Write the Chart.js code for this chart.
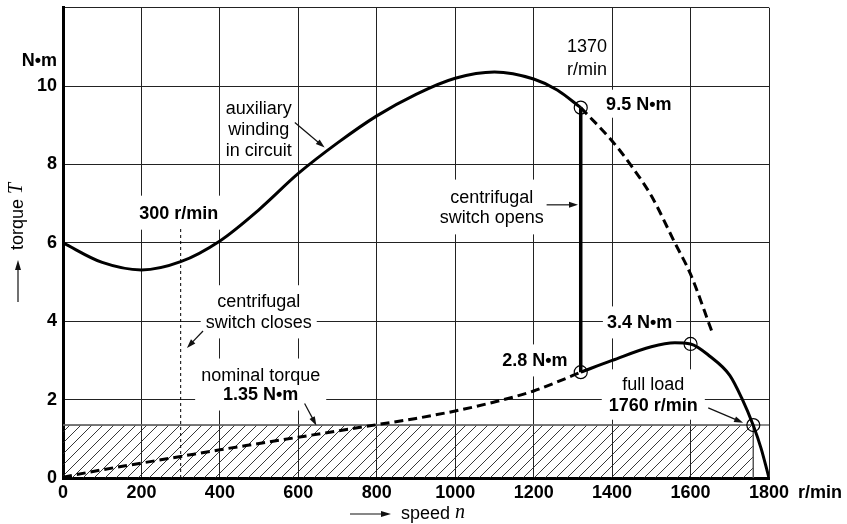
<!DOCTYPE html>
<html>
<head>
<meta charset="utf-8">
<script src="https://cdn.jsdelivr.net/npm/chart.js@4.4.1/dist/chart.umd.min.js"></script>
<style>
    html, body { margin: 0; padding: 0; background: #fff; }
    #wrap { width: 847px; height: 524px; }
</style>
</head>
<body>
<div id="wrap"><canvas id="torqueChart" width="847" height="524"></canvas></div>
<script>
/* ================= DATA ================= */
const speedTicks = [0, 200, 400, 600, 800, 1000, 1200, 1400, 1600, 1800];
const torqueTicks = [0, 2, 4, 6, 8, 10, 12];
const torqueLabelled = [0, 2, 4, 6, 8, 10];

// auxiliary winding in circuit (solid, then dashed once the switch has opened)
const auxSpeed = [0, 100, 200, 300, 400, 500, 600, 700, 800, 900, 1000, 1100, 1200, 1260, 1320];
const auxTorque = [6.0, 5.5, 5.31, 5.52, 6.05, 6.85, 7.77, 8.55, 9.24, 9.79, 10.2, 10.36, 10.18, 9.9, 9.45];
const auxExtSpeed = [1320, 1400, 1450, 1500, 1560, 1600, 1654];
const auxExtTorque = [9.45, 8.6, 7.95, 7.2, 6.0, 5.2, 3.75];

// main winding only (dashed below the switch, solid above it)
const mainLowSpeed = [0, 100, 200, 300, 400, 500, 600, 700, 800, 900, 1000, 1100, 1200, 1260, 1320];
const mainLowTorque = [0.02, 0.21, 0.38, 0.55, 0.72, 0.88, 1.04, 1.2, 1.36, 1.52, 1.71, 1.94, 2.22, 2.45, 2.7];
const mainRunSpeed = [1320, 1400, 1500, 1560, 1600, 1650, 1700, 1730, 1760, 1780, 1800];
const mainRunTorque = [2.7, 3.0, 3.35, 3.45, 3.42, 3.1, 2.62, 2.05, 1.34, 0.75, 0];

const switchSpeed = 1320;
const switchTorque = [2.7, 9.45];
const closeSpeed = 300;
const closeTorque = [0, 6.4];
const nominalTorque = 1.35;
const fullLoadSpeed = 1760;

const markSpeed = [1320, 1320, 1600, 1760];
const markTorque = [9.45, 2.7, 3.42, 1.35];

const FONT = "'Liberation Sans', Arial, Helvetica, sans-serif";
const SERIF = "'Liberation Serif', 'Times New Roman', serif";

const pts = (xs, ys) => xs.map((x, i) => ({ x: x, y: ys[i] }));

/* ================= HATCH PATTERN ================= */
const canvas = document.getElementById('torqueChart');
const ctx = canvas.getContext('2d');

function hatchPattern() {
    const tile = document.createElement('canvas');
    tile.width = 11;
    tile.height = 11;
    const g = tile.getContext('2d');
    g.strokeStyle = '#222';
    g.lineWidth = 0.9;
    g.beginPath();
    g.moveTo(0, 11); g.lineTo(11, 0);
    g.moveTo(-2, 2); g.lineTo(2, -2);
    g.moveTo(9, 13); g.lineTo(13, 9);
    g.stroke();
    return ctx.createPattern(tile, 'repeat');
}

/* ================= ANNOTATIONS ================= */
// text notes placed in data units (speed, torque); each line: [text, bold, torque]
const notes = [
    { x: 499, lines: [['auxiliary', false, 9.44], ['winding', false, 8.91], ['in circuit', false, 8.37]], padX: 2, padY: 3 },
    { x: 1093, lines: [['centrifugal', false, 7.18], ['switch opens', false, 6.65]], padX: 6, padY: 8 },
    { x: 295, lines: [['300 r/min', true, 6.77]], padX: 5, padY: 8 },
    { x: 499, lines: [['centrifugal', false, 4.51], ['switch closes', false, 3.97]], padX: 5, padY: 7 },
    { x: 504, lines: [['nominal torque', false, 2.64], ['1.35 N•m', true, 2.13]], padX: 6, padY: 7 },
    { x: 1336, lines: [['1370', false, 11.02], ['r/min', false, 10.44]], padX: 2, padY: 3 },
    { x: 1468, lines: [['9.5 N•m', true, 9.55]], padX: 4, padY: 5 },
    { x: 1470, lines: [['3.4 N•m', true, 3.97]], padX: 4, padY: 7 },
    { x: 1203, lines: [['2.8 N•m', true, 3.0]], padX: 4, padY: 7 },
    { x: 1505, lines: [['full load', false, 2.39], ['1760 r/min', true, 1.87]], padX: 7, padY: 6 }
];

// arrows in data units: [fromSpeed, fromTorque, toSpeed, toTorque]
const arrows = [
    [591, 9.07, 667, 8.43],
    [1233, 6.97, 1313, 6.97],
    [357, 3.75, 316, 3.32],
    [616, 1.9, 646, 1.34],
    [1645, 1.79, 1734, 1.41]
];

function drawArrow(c, x1, y1, x2, y2, head, width) {
    const a = Math.atan2(y2 - y1, x2 - x1);
    c.save();
    c.strokeStyle = '#111';
    c.fillStyle = '#111';
    c.lineWidth = width;
    c.beginPath();
    c.moveTo(x1, y1);
    c.lineTo(x2 - Math.cos(a) * head * 0.8, y2 - Math.sin(a) * head * 0.8);
    c.stroke();
    c.beginPath();
    c.moveTo(x2, y2);
    c.lineTo(x2 - head * Math.cos(a) + 3 * Math.sin(a), y2 - head * Math.sin(a) - 3 * Math.cos(a));
    c.lineTo(x2 - head * Math.cos(a) - 3 * Math.sin(a), y2 - head * Math.sin(a) + 3 * Math.cos(a));
    c.closePath();
    c.fill();
    c.restore();
}

const notesPlugin = {
    id: 'notes',
    beforeDatasetsDraw(chart) {
        const c = chart.ctx;
        const xs = chart.scales.x, ys = chart.scales.y;
        c.save();
        notes.forEach(n => {
            const cx = xs.getPixelForValue(n.x);
            let w = 0;
            n.lines.forEach(l => {
                c.font = (l[1] ? 'bold ' : '') + '18px ' + FONT;
                w = Math.max(w, c.measureText(l[0]).width);
            });
            const top = ys.getPixelForValue(n.lines[0][2]) - 9 - n.padY;
            const bottom = ys.getPixelForValue(n.lines[n.lines.length - 1][2]) + 9 + n.padY;
            c.fillStyle = '#fff';
            c.fillRect(cx - w / 2 - n.padX, top, w + 2 * n.padX, bottom - top);
            c.fillStyle = '#000';
            c.textAlign = 'center';
            c.textBaseline = 'middle';
            n.lines.forEach(l => {
                c.font = (l[1] ? 'bold ' : '') + '18px ' + FONT;
                c.fillText(l[0], cx, ys.getPixelForValue(l[2]) + 1);
            });
        });
        c.restore();
    },
    afterDatasetsDraw(chart) {
        const c = chart.ctx;
        const xs = chart.scales.x, ys = chart.scales.y;
        arrows.forEach(a => {
            drawArrow(c, xs.getPixelForValue(a[0]), ys.getPixelForValue(a[1]),
                xs.getPixelForValue(a[2]), ys.getPixelForValue(a[3]), 9, 1.2);
        });
    },
    afterDraw(chart) {
        const c = chart.ctx;
        const area = chart.chartArea;
        c.save();
        c.fillStyle = '#000';
        c.textBaseline = 'middle';

        // axis units
        c.font = 'bold 18px ' + FONT;
        c.textAlign = 'right';
        c.fillText('N•m', area.left - 6, 61);
        c.textAlign = 'left';
        c.fillText('r/min', area.right + 29, area.bottom + 15);

        // x title: arrow + "speed n"
        const ty = area.bottom + 36;
        drawArrow(c, 350, ty, 391, ty, 10, 1.2);
        c.font = '18px ' + FONT;
        c.fillText('speed ', 401, ty);
        const sw = c.measureText('speed ').width;
        c.font = 'italic 20px ' + SERIF;
        c.fillText('n', 401 + sw, ty - 1);

        // y title: arrow + "torque T", rotated
        c.translate(18, 302);
        c.rotate(-Math.PI / 2);
        drawArrow(c, 0, 0, 42, 0, 10, 1.2);
        c.font = '18px ' + FONT;
        c.fillText('torque ', 52, 0);
        const tw = c.measureText('torque ').width;
        c.font = 'italic 20px ' + SERIF;
        c.fillText('T', 52 + tw, -1);
        c.restore();
    }
};

/* ================= CHART ================= */
const tickFont = { family: FONT, size: 18, weight: 'bold' };

const torqueChart = new Chart(ctx, {
    type: 'scatter',
    data: {
        datasets: [
            {
                label: 'aux winding',
                data: pts(auxSpeed, auxTorque),
                showLine: true,
                borderColor: '#000',
                borderWidth: 3,
                cubicInterpolationMode: 'monotone',
                pointRadius: 0,
                order: 2
            },
            {
                label: 'aux winding (switch open)',
                data: pts(auxExtSpeed, auxExtTorque),
                showLine: true,
                borderColor: '#000',
                borderWidth: 3,
                borderDash: [9, 5],
                cubicInterpolationMode: 'monotone',
                pointRadius: 0,
                order: 2
            },
            {
                label: 'main winding (switch closed)',
                data: pts(mainLowSpeed, mainLowTorque),
                showLine: true,
                borderColor: '#000',
                borderWidth: 3,
                borderDash: [9, 5],
                cubicInterpolationMode: 'monotone',
                pointRadius: 0,
                order: 2
            },
            {
                label: 'main winding',
                data: pts(mainRunSpeed, mainRunTorque),
                showLine: true,
                borderColor: '#000',
                borderWidth: 3,
                cubicInterpolationMode: 'monotone',
                pointRadius: 0,
                order: 2
            },
            {
                label: 'switch opens',
                data: pts([switchSpeed, switchSpeed], switchTorque),
                showLine: true,
                borderColor: '#000',
                borderWidth: 3.5,
                pointRadius: 0,
                order: 2
            },
            {
                label: 'switch closes',
                data: pts([closeSpeed, closeSpeed], closeTorque),
                showLine: true,
                borderColor: '#000',
                borderWidth: 1,
                borderDash: [3, 3],
                pointRadius: 0,
                order: 3
            },
            {
                label: 'nominal torque line',
                data: pts([0, 1800], [nominalTorque, nominalTorque]),
                showLine: true,
                borderColor: '#666',
                borderWidth: 1.5,
                pointRadius: 0,
                order: 4
            },
            {
                label: 'nominal area',
                data: pts([0, fullLoadSpeed, fullLoadSpeed], [nominalTorque, nominalTorque, 0]),
                showLine: true,
                fill: 'origin',
                backgroundColor: hatchPattern(),
                borderColor: '#555',
                borderWidth: 1,
                pointRadius: 0,
                order: 5
            },
            {
                label: 'marks',
                data: pts(markSpeed, markTorque),
                showLine: false,
                pointStyle: 'circle',
                pointRadius: 6.5,
                pointBackgroundColor: 'rgba(0,0,0,0)',
                pointBorderColor: '#000',
                pointBorderWidth: 1.2,
                order: 1
            }
        ]
    },
    options: {
        responsive: false,
        animation: false,
        layout: { padding: { top: 7, right: 78, left: 0, bottom: 0 } },
        plugins: {
            legend: { display: false },
            tooltip: { enabled: false }
        },
        scales: {
            x: {
                type: 'linear',
                min: 0,
                max: 1800,
                afterBuildTicks: axis => { axis.ticks = speedTicks.map(v => ({ value: v })); },
                afterFit: axis => { axis.height = 46; axis.paddingLeft = 0; axis.paddingRight = 0; },
                ticks: {
                    font: tickFont,
                    color: '#000',
                    padding: 4,
                    maxRotation: 0,
                    autoSkip: false,
                    callback: v => String(v)
                },
                grid: { color: '#222', lineWidth: 1, drawTicks: false },
                border: { color: '#000', width: 3 }
            },
            y: {
                min: 0,
                max: 12,
                afterBuildTicks: axis => { axis.ticks = torqueTicks.map(v => ({ value: v })); },
                afterFit: axis => { axis.width = 63; axis.paddingTop = 0; axis.paddingBottom = 0; },
                ticks: {
                    font: tickFont,
                    color: '#000',
                    padding: 6,
                    callback: v => torqueLabelled.includes(v) ? String(v) : ''
                },
                grid: { color: '#222', lineWidth: 1, drawTicks: false },
                border: { color: '#000', width: 3 }
            }
        }
    },
    plugins: [notesPlugin]
});
</script>
</body>
</html>
